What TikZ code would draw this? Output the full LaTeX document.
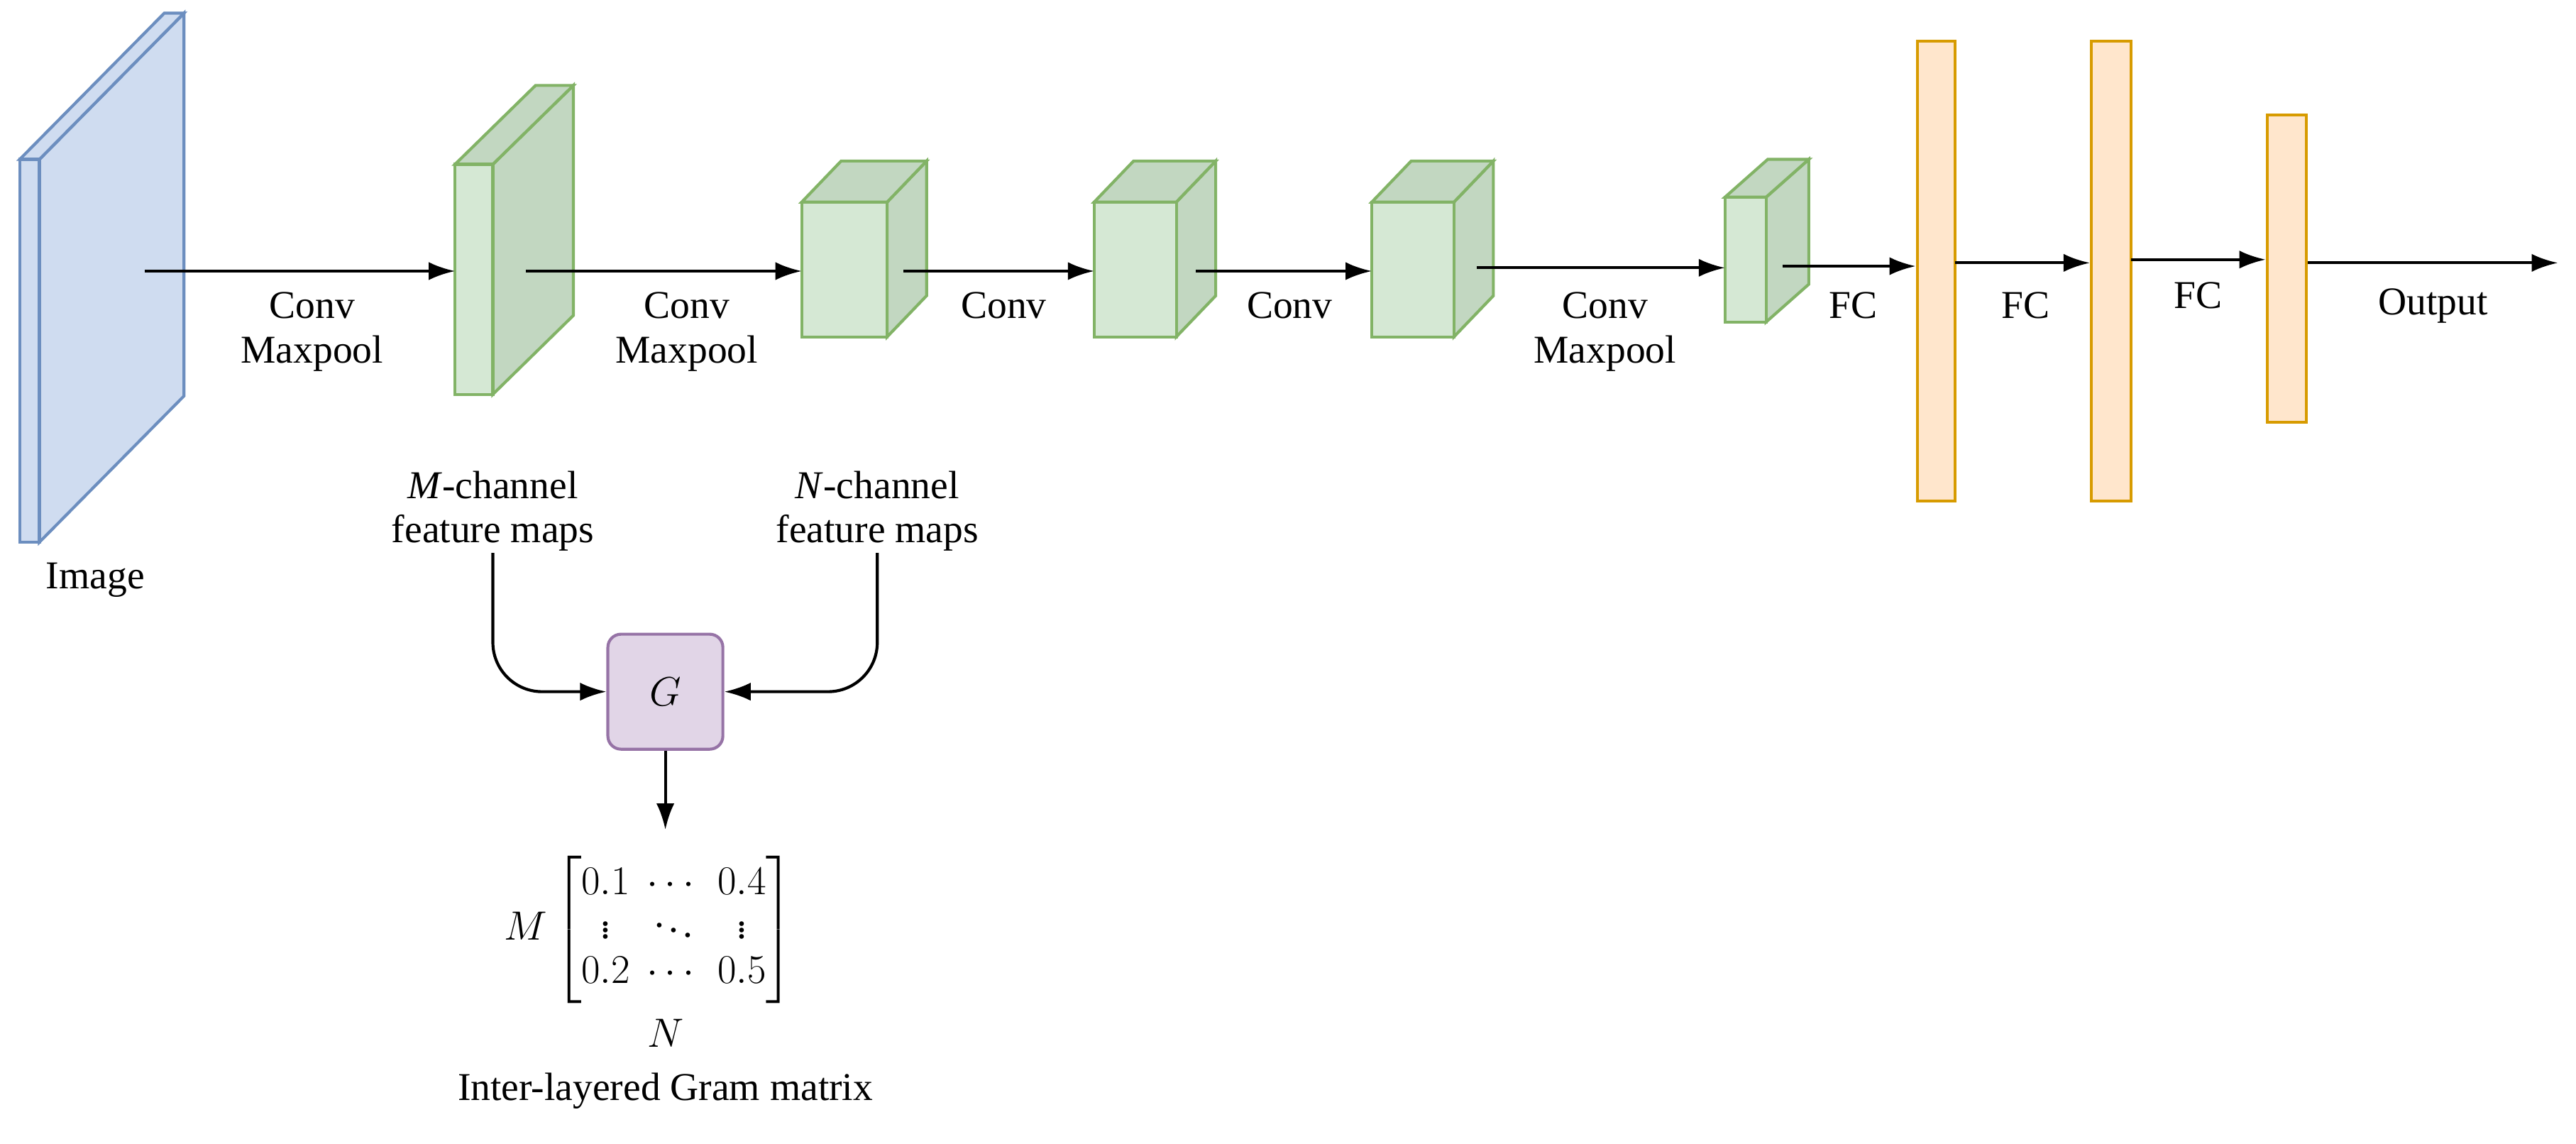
\documentclass[tikz,border=0pt]{standalone}
\usepackage{amsmath}
\usepackage{fontspec}
\setmainfont{Liberation Serif}
\usetikzlibrary{arrows.meta}
\begin{document}
\begin{tikzpicture}[x=1pt,y=-1pt,
  lab/.style={font=\fontsize{24}{27}\selectfont,align=center,inner sep=1pt},
  arr/.style={-{Latex[length=16pt,width=11pt]},line width=1.8pt}]
\useasboundingbox (0,0) rectangle (1568,696);
\definecolor{gfront}{HTML}{D5E8D4}\definecolor{gside}{HTML}{C2D7C1}\definecolor{gline}{HTML}{82B366}
\definecolor{bfill}{HTML}{CFDCF0}\definecolor{bline}{HTML}{6C8EBF}
\definecolor{ofill}{HTML}{FFE6CC}\definecolor{oline}{HTML}{D79B00}
\definecolor{pfill}{HTML}{E1D5E7}\definecolor{pline}{HTML}{9673A6}
\tikzset{front/.style={fill=gfront,draw=gline,line width=1.8pt},side/.style={fill=gside,draw=gline,line width=1.8pt},fc/.style={fill=ofill,draw=oline,line width=1.8pt}}
% image slab
\draw[fill=bfill,draw=bline,line width=1.8pt] (24,97)--(112,8)--(112,241)--(24,330)--cycle;
\draw[fill=bfill,draw=bline,line width=1.8pt] (12,97)--(100,8)--(112,8)--(24,97)--cycle;
\draw[fill=bfill,draw=bline,line width=1.8pt] (12,97) rectangle (24,330);
\newcommand{\cube}[6]{% x1 y1 x2 y2 dx dy
 \draw[side] (#3,#2)--(#3+#5,#2-#6)--(#3+#5,#4-#6)--(#3,#4)--cycle;
 \draw[side] (#1,#2)--(#1+#5,#2-#6)--(#3+#5,#2-#6)--(#3,#2)--cycle;
 \draw[front] (#1,#2) rectangle (#3,#4);}
\cube{277}{100}{300}{240}{49}{48}
\cube{488}{123}{540}{205}{24}{25}
\cube{666}{123}{716}{205}{24}{25}
\cube{835}{123}{885}{205}{24}{25}
\cube{1050}{120}{1075}{196}{26}{23}
\node[fc,minimum width=23pt,minimum height=280pt,inner sep=0] (f1) at (1178.5,165) {};
\node[fc,minimum width=24pt,minimum height=280pt,inner sep=0] (f2) at (1285,165) {};
\node[fc,minimum width=24pt,minimum height=187pt,inner sep=0] (f3) at (1392,163.5) {};
\coordinate (a0) at (88,165); \coordinate (a1) at (277,165);
\coordinate (b0) at (320,165); \coordinate (b1) at (488,165);
\coordinate (c0) at (550,165); \coordinate (c1) at (666,165);
\coordinate (d0) at (728,165); \coordinate (d1) at (835,165);
\coordinate (e0) at (899,163); \coordinate (e1) at (1050,163);
\coordinate (g0) at (1085,162); \coordinate (h0) at (1190,160); \coordinate (i0) at (1297,158);
\coordinate (o1) at (1557,160);
\draw[arr] (a0)--(a1); \draw[arr] (b0)--(b1); \draw[arr] (c0)--(c1);
\draw[arr] (d0)--(d1); \draw[arr] (e0)--(e1);
\draw[arr] (g0)--(g0-|f1.west); \draw[arr] (h0)--(h0-|f2.west); \draw[arr] (i0)--(i0-|f3.west);
\draw[arr] (f3.east|-o1)--(o1);
\node[lab] at (190,202) {Conv\\Maxpool};
\node[lab] at (418,202) {Conv\\Maxpool};
\node[lab] at (611,186) {Conv};
\node[lab] at (785,186) {Conv};
\node[lab] at (977,202) {Conv\\Maxpool};
\node[lab] at (1128,186) {FC};
\node[lab] at (1233,186) {FC};
\node[lab] at (1338,180) {FC};
\node[lab] at (1481,186) {Output};
\node[lab] at (58,353) {Image};
\node[lab] (m) at (300,311) {\textit{M}-channel\\feature maps};
\node[lab] (n) at (534,311) {\textit{N}-channel\\feature maps};
\node[draw=pline,fill=pfill,line width=1.8pt,rounded corners=8pt,minimum width=70pt,minimum height=70pt,font=\fontsize{24}{27}\selectfont] (g) at (405,421) {$G$};
\draw[arr,rounded corners=30pt] (m.south)|-(g.west);
\draw[arr,rounded corners=30pt] (n.south)|-(g.east);
\node[lab] (mat) at (395,566) {$M\begin{bmatrix}0.1&\cdots&0.4\\ \vdots&\ddots&\vdots\\ 0.2&\cdots&0.5\end{bmatrix}$};
\coordinate (mt) at (405,505);
\draw[arr] (g.south)--(mt);
\node[lab] at (405,629) {$N$};
\node[lab] at (405,664) {Inter-layered Gram matrix};
\end{tikzpicture}
\end{document}
